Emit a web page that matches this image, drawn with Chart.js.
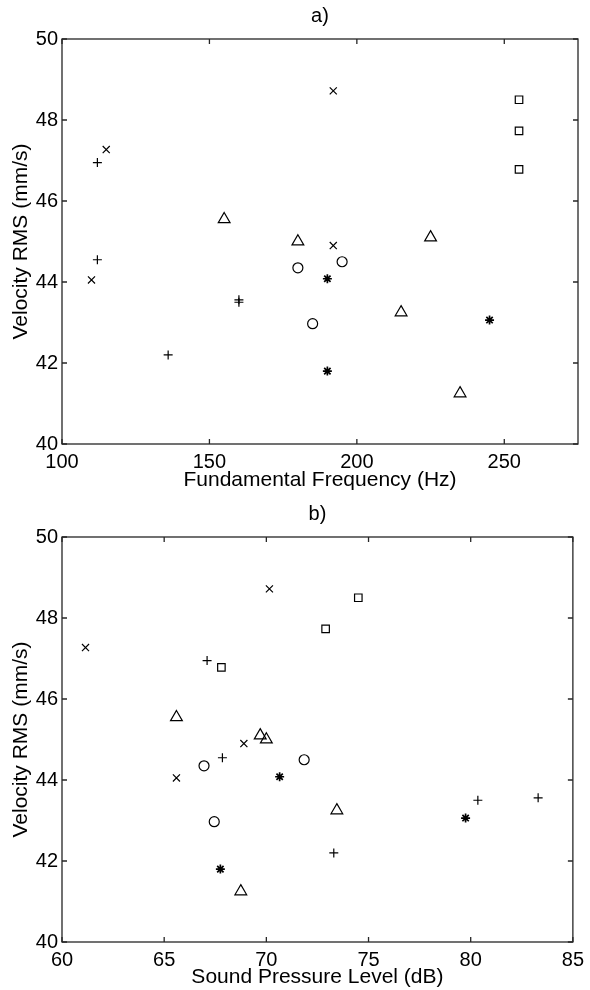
<!DOCTYPE html>
<html>
<head>
<meta charset="utf-8">
<script src="https://cdn.jsdelivr.net/npm/chart.js@4/dist/chart.umd.min.js"></script>
<style>
    html, body { margin: 0; padding: 0; background: #fff; }
    .panel { position: absolute; left: 0; width: 590px; height: 495px; }
</style>
</head>
<body>
<div class="panel" style="top:0"><canvas id="chartA" width="590" height="495"></canvas></div>
<div class="panel" style="top:495px"><canvas id="chartB" width="590" height="495"></canvas></div>
<script>
// ejes
const rmsRange = [40, 50];
const rmsTicks = [40, 42, 44, 46, 48, 50];
const f0Range = [100, 275];
const f0Ticks = [100, 150, 200, 250];
const splRange = [60, 85];
const splTicks = [60, 65, 70, 75, 80, 85];

// + 
const plusRms = [46.95, 44.55, 42.2, 43.5, 43.56];
const plusF0 = [112, 112, 136, 160, 160];
const plusSpl = [67.1, 67.85, 73.3, 80.35, 83.3];

// x
const crossRms = [47.27, 44.05, 48.72, 44.9];
const crossF0 = [115, 110, 192, 192];
const crossSpl = [61.15, 65.6, 70.15, 68.9];

// triangulos
const triRms = [45.55, 45.0, 45.1, 43.25, 41.25];
const triF0 = [155, 180, 225, 215, 235];
const triSpl = [65.6, 70.0, 69.7, 73.45, 68.75];

// circulos
const circRms = [44.35, 44.5, 42.97];
const circF0 = [180, 195, 185];
const circSpl = [66.95, 71.85, 67.45];

// asteriscos
const starRms = [44.08, 41.8, 43.06];
const starF0 = [190, 190, 245];
const starSpl = [70.65, 67.75, 79.75];

// cuadrados
const sqRms = [48.5, 47.73, 46.78];
const sqF0 = [255, 255, 255];
const sqSpl = [74.5, 72.9, 67.8];

const FONT = '"Liberation Sans", Arial, sans-serif';

function pts(xs, ys) {
    return xs.map((x, i) => ({ x, y: ys[i] }));
}

function serie(xs, ys, style, radius, width) {
    return {
        data: pts(xs, ys),
        pointStyle: style,
        pointRadius: radius,
        pointHoverRadius: radius,
        pointBorderWidth: width,
        borderColor: '#000',
        backgroundColor: 'rgba(0,0,0,0)',
        showLine: false
    };
}

// marco tipo matlab con ticks hacia dentro y titulo del panel
const marco = {
    id: 'marco',
    afterDraw(chart, args, opts) {
        const { ctx, chartArea: a, scales } = chart;
        ctx.save();
        ctx.strokeStyle = '#262626';
        ctx.lineWidth = 1.3;
        ctx.strokeRect(a.left, a.top, a.right - a.left, a.bottom - a.top);
        ctx.beginPath();
        scales.x.ticks.forEach(t => {
            const px = scales.x.getPixelForValue(t.value);
            ctx.moveTo(px, a.bottom); ctx.lineTo(px, a.bottom - 5);
            ctx.moveTo(px, a.top); ctx.lineTo(px, a.top + 5);
        });
        scales.y.ticks.forEach(t => {
            const py = scales.y.getPixelForValue(t.value);
            ctx.moveTo(a.left, py); ctx.lineTo(a.left + 5, py);
            ctx.moveTo(a.right, py); ctx.lineTo(a.right - 5, py);
        });
        ctx.stroke();
        ctx.fillStyle = '#000';
        ctx.font = '20px ' + FONT;
        ctx.textAlign = 'center';
        ctx.textBaseline = 'middle';
        ctx.fillText(opts.text, (a.left + a.right) / 2, a.top - 23);
        ctx.restore();
    }
};

function crearGrafico(id, cfg) {
    const ctx = document.getElementById(id).getContext('2d');
    return new Chart(ctx, {
        type: 'scatter',
        data: {
            datasets: [
                serie(cfg.plus, plusRms, 'cross', 4.5, 1.2),
                serie(cfg.cross, crossRms, 'crossRot', 5, 1.2),
                serie(cfg.tri, triRms, 'triangle', 6.8, 1.2),
                serie(cfg.circ, circRms, 'circle', 5, 1.2),
                serie(cfg.star, starRms, 'star', 4.5, 1.7),
                serie(cfg.sq, sqRms, 'rect', 5.3, 1.2)
            ]
        },
        options: {
            responsive: false,
            animation: false,
            devicePixelRatio: 1,
            layout: { padding: { top: cfg.top, right: 12, left: 0, bottom: 0 } },
            plugins: {
                legend: { display: false },
                tooltip: { enabled: false },
                marco: { text: cfg.panel }
            },
            scales: {
                x: {
                    type: 'linear',
                    min: cfg.range[0],
                    max: cfg.range[1],
                    afterBuildTicks: s => { s.ticks = cfg.ticks.map(v => ({ value: v })); },
                    afterFit: s => { s.height = cfg.xHeight; },
                    grid: { display: false, drawTicks: false },
                    border: { display: false },
                    ticks: { autoSkip: false, maxRotation: 0, padding: 6, color: '#000', font: { family: FONT, size: 20 } },
                    title: { display: true, text: cfg.xTitle, color: '#000', font: { family: FONT, size: 21 }, padding: { top: 0, bottom: cfg.titlePad } }
                },
                y: {
                    type: 'linear',
                    min: rmsRange[0],
                    max: rmsRange[1],
                    afterBuildTicks: s => { s.ticks = rmsTicks.map(v => ({ value: v })); },
                    afterFit: s => { s.width = 62; },
                    grid: { display: false, drawTicks: false },
                    border: { display: false },
                    ticks: { autoSkip: false, padding: 4, color: '#000', font: { family: FONT, size: 20 } },
                    title: { display: true, text: 'Velocity RMS (mm/s)', color: '#000', font: { family: FONT, size: 21 }, padding: { top: 9, bottom: 0 } }
                }
            }
        },
        plugins: [marco]
    });
}

crearGrafico('chartA', {
    plus: plusF0, cross: crossF0, tri: triF0, circ: circF0, star: starF0, sq: sqF0,
    range: f0Range, ticks: f0Ticks, xTitle: 'Fundamental Frequency (Hz)', panel: 'a)',
    top: 39, xHeight: 51, titlePad: 2
});

crearGrafico('chartB', {
    plus: plusSpl, cross: crossSpl, tri: triSpl, circ: circSpl, star: starSpl, sq: sqSpl,
    range: splRange, ticks: splTicks, xTitle: 'Sound Pressure Level (dB)', panel: 'b)',
    top: 42, xHeight: 48, titlePad: 0
});
</script>
</body>
</html>
